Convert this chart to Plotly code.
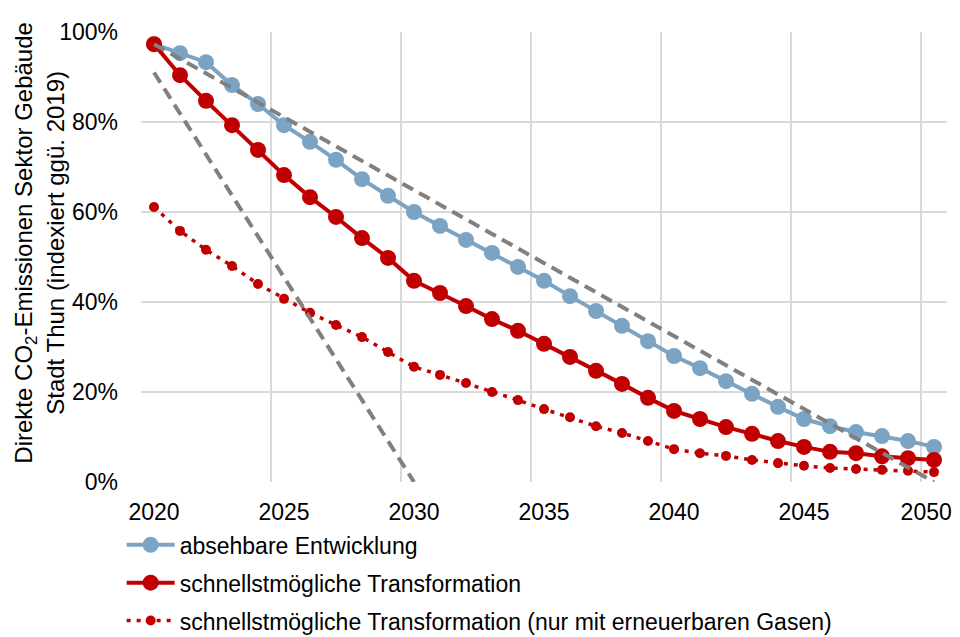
import numpy as np
import plotly.graph_objects as go

# DATA
years = list(range(2020, 2051))

absehbar = [97.3, 95.3, 93.3, 88.2, 84.0, 79.3, 75.6, 71.6, 67.3, 63.6, 60.0,
            56.9, 53.8, 50.9, 47.8, 44.7, 41.3, 38.0, 34.7, 31.3, 28.0,
            25.3, 22.4, 19.6, 16.7, 14.0, 12.4, 11.1, 10.2, 9.1, 7.8]

schnell = [97.3, 90.4, 84.7, 79.3, 73.8, 68.2, 63.3, 58.9, 54.2, 49.8, 44.7,
           42.0, 39.1, 36.2, 33.6, 30.7, 27.8, 24.7, 21.8, 18.7, 15.8,
           14.0, 12.2, 10.7, 9.1, 7.8, 6.7, 6.4, 5.7, 5.3, 4.9]

schnell_gas = [61.1, 55.8, 51.6, 48.0, 44.0, 40.7, 37.6, 34.9, 32.2, 28.9, 25.6,
               23.8, 22.0, 20.0, 18.2, 16.2, 14.4, 12.4, 10.9, 9.1, 7.3,
               6.4, 5.8, 4.9, 4.2, 3.6, 3.1, 2.9, 2.7, 2.5, 2.2]

# linear paths (dashed grey)
pfad_2050_x = [2020, 2050]
pfad_2050_y = [97.3, 0.0]
pfad_2030_x = [2020, 2030]
pfad_2030_y = [91.0, 0.0]

x_ticks = [2020, 2025, 2030, 2035, 2040, 2045, 2050]
x_labels = ["2020", "2025", "2030", "2035", "2040", "2045", "2050"]
x_grid = [2019.5, 2024.5, 2029.5, 2034.5, 2039.5, 2044.5, 2049.5]

Y_TITLE = "Direkte CO<sub>2</sub>-Emissionen Sektor Gebäude<br>Stadt Thun (indexiert ggü. 2019)"

BLUE = "#7BA3C4"
RED = "#C00000"
GREY = "#808080"
FONT = "Liberation Sans, Arial, sans-serif"
FS = 23


def pct(vals):
    return np.array(vals) / 100.0


fig = go.Figure()

fig.add_trace(go.Scatter(
    x=years, y=pct(absehbar), mode="lines+markers",
    name="absehbare Entwicklung",
    line=dict(color=BLUE, width=4),
    marker=dict(color=BLUE, size=16),
    legendgroup="a",
))
fig.add_trace(go.Scatter(
    x=years, y=pct(schnell), mode="lines+markers",
    name="schnellstmögliche Transformation",
    line=dict(color=RED, width=4),
    marker=dict(color=RED, size=16),
    legendgroup="b",
))
fig.add_trace(go.Scatter(
    x=years, y=pct(schnell_gas), mode="lines+markers",
    name="schnellstmögliche Transformation (nur mit erneuerbaren Gasen)",
    line=dict(color=RED, width=3.5, dash="4px,6px"),
    marker=dict(color=RED, size=10),
    legendgroup="c",
))

# dashed reference paths, not in legend
for xs, ys in [(pfad_2050_x, pfad_2050_y), (pfad_2030_x, pfad_2030_y)]:
    fig.add_trace(go.Scatter(
        x=xs, y=pct(ys), mode="lines",
        line=dict(color=GREY, width=4, dash="12px,7px"),
        showlegend=False, hoverinfo="skip",
    ))

# page has an 8px body margin, margins compensate for it
fig.update_layout(
    width=960, height=637,
    margin=dict(l=133, r=21, t=24, b=163, autoexpand=False),
    paper_bgcolor="white",
    plot_bgcolor="white",
    font=dict(family=FONT, size=FS, color="black"),
    showlegend=True,
    legend=dict(
        xref="paper", yref="container",
        x=-0.024, y=0.191, xanchor="left", yanchor="top",
        orientation="v", traceorder="grouped", tracegroupgap=5,
        itemwidth=48,
        font=dict(size=FS), bgcolor="rgba(0,0,0,0)",
    ),
    annotations=[dict(
        text=Y_TITLE, textangle=-90,
        xref="paper", yref="paper", x=-0.1265, y=0.532,
        xanchor="center", yanchor="middle",
        showarrow=False, font=dict(size=24),
    )],
)

# last label nudged left so it stays inside the page, like the original
tick_pos = x_ticks[:-1] + [x_ticks[-1] - 0.3]

fig.update_xaxes(
    range=[2019.5, 2050.5],
    tickmode="array", tickvals=tick_pos, ticktext=x_labels,
    showgrid=False, zeroline=False,
    showline=False, ticks="",
    ticklabelstandoff=14,
    ticklabeloverflow="allow",
    automargin=False,
    minor=dict(
        tickmode="array", tickvals=x_grid,
        showgrid=True, gridcolor="#D9D9D9", gridwidth=2, ticks="",
    ),
)

fig.update_yaxes(
    range=[0, 1.0], dtick=0.2, tickformat=".0%",
    showgrid=True, gridcolor="#D9D9D9", gridwidth=2,
    zeroline=False, showline=False, ticks="",
    ticklabelstandoff=22,
    automargin=False,
)

fig.write_html("out.html")
